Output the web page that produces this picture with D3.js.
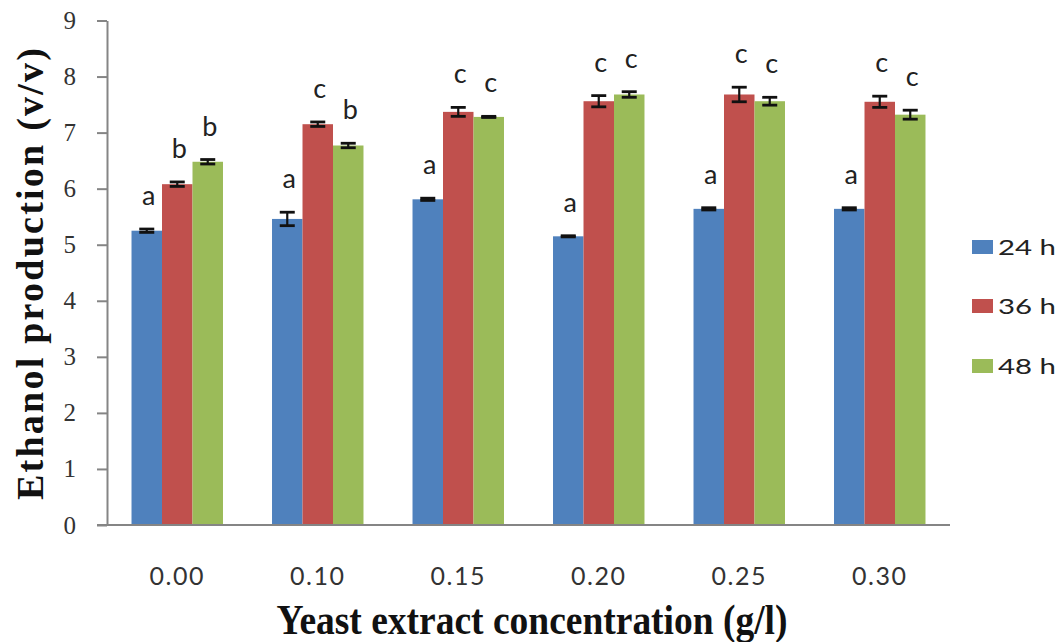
<!DOCTYPE html>
<html>
<head>
<meta charset="utf-8">
<script src="https://cdn.jsdelivr.net/npm/d3@7"></script>
<style>
  html, body { margin: 0; padding: 0; background: #fff; }
  svg { display: block; }
</style>
</head>
<body>
<svg id="chart" width="1057" height="642"></svg>
<script>
// ---- data ----
const categories = ["0.00", "0.10", "0.15", "0.20", "0.25", "0.30"];
const seriesNames = ["24 h", "36 h", "48 h"];
const values24 = [5.25, 5.46, 5.81, 5.15, 5.64, 5.64];
const values36 = [6.08, 7.15, 7.37, 7.56, 7.68, 7.55];
const values48 = [6.48, 6.77, 7.28, 7.68, 7.56, 7.32];
const errors24 = [0.03, 0.12, 0.02, 0.01, 0.02, 0.02];
const errors36 = [0.04, 0.04, 0.08, 0.10, 0.13, 0.10];
const errors48 = [0.04, 0.04, 0.01, 0.05, 0.07, 0.08];
const letters24 = ["a", "a", "a", "a", "a", "a"];
const letters36 = ["b", "c", "c", "c", "c", "c"];
const letters48 = ["b", "b", "c", "c", "c", "c"];
const yTicks = [0, 1, 2, 3, 4, 5, 6, 7, 8, 9];
const colors = ["#4F81BD", "#C0504D", "#9BBB59"];

const seriesValues = [values24, values36, values48];
const seriesErrors = [errors24, errors36, errors48];
const seriesLetters = [letters24, letters36, letters48];

// ---- layout ----
const svg = d3.select("#chart");
const plotLeft = 107, plotRight = 950, plotTop = 20.5, plotBottom = 525;

const x = d3.scaleBand().domain(categories).range([plotLeft, plotRight]).padding(0);
const groupW = x.bandwidth() * 0.651;
const xs = d3.scaleBand().domain(seriesNames).range([0, groupW]).padding(0);
const groupOffset = (x.bandwidth() - groupW) / 2;
const y = d3.scaleLinear().domain([0, 9]).range([plotBottom, plotTop]);

const rows = [];
categories.forEach((c, i) => {
  seriesNames.forEach((s, j) => {
    rows.push({cat: c, series: s, j, v: seriesValues[j][i], e: seriesErrors[j][i], letter: seriesLetters[j][i]});
  });
});

// bars
svg.append("g").selectAll("rect").data(rows).join("rect")
  .attr("x", d => x(d.cat) + groupOffset + xs(d.series))
  .attr("width", xs.bandwidth())
  .attr("y", d => y(d.v))
  .attr("height", d => y(0) - y(d.v))
  .attr("fill", d => colors[d.j]);

// error bars
const eg = svg.append("g").attr("stroke", "#111").attr("stroke-width", 2.2);
rows.forEach(d => {
  const cx = x(d.cat) + groupOffset + xs(d.series) + xs.bandwidth() / 2;
  const hi = y(d.v + d.e), lo = y(d.v - d.e);
  eg.append("line").attr("x1", cx).attr("x2", cx).attr("y1", hi).attr("y2", lo);
  eg.append("line").attr("x1", cx - 7.5).attr("x2", cx + 7.5).attr("y1", hi).attr("y2", hi).attr("stroke-width", 2.8);
  eg.append("line").attr("x1", cx - 7.5).attr("x2", cx + 7.5).attr("y1", lo).attr("y2", lo).attr("stroke-width", 2.8);
});

// significance letters
svg.append("g").selectAll("text").data(rows).join("text")
  .attr("x", d => x(d.cat) + groupOffset + xs(d.series) + xs.bandwidth() / 2 + 2)
  .attr("y", d => y(d.v + d.e) - 24)
  .attr("text-anchor", "middle")
  .attr("font-family", "Lato, 'Open Sans', sans-serif")
  .attr("font-size", 27)
  .attr("fill", "#222")
  .text(d => d.letter);

// y axis
const yAxis = d3.axisLeft(y).tickValues(yTicks).tickSize(10).tickSizeOuter(0).tickPadding(21).tickFormat(d3.format("d"));
const yg = svg.append("g").attr("transform", `translate(${plotLeft},0)`).call(yAxis);
yg.select(".domain").attr("stroke", "#858585").attr("stroke-width", 2);
yg.selectAll(".tick line").attr("stroke", "#858585").attr("stroke-width", 2);
yg.selectAll(".tick text")
  .attr("font-family", "'Liberation Serif', 'Times New Roman', serif")
  .attr("font-size", 25)
  .attr("fill", "#333");

// x axis
const xAxis = d3.axisBottom(x).tickSize(0).tickPadding(0);
const xg = svg.append("g").attr("transform", `translate(0,${plotBottom})`).call(xAxis);
xg.select(".domain").remove();
xg.selectAll(".tick text")
  .attr("y", 60).attr("dy", 0)
  .attr("font-family", "Lato, 'Open Sans', sans-serif")
  .attr("font-size", 25)
  .attr("letter-spacing", 1.5)
  .attr("fill", "#333");
svg.append("line")
  .attr("x1", plotLeft - 10).attr("x2", plotRight)
  .attr("y1", plotBottom).attr("y2", plotBottom)
  .attr("stroke", "#858585").attr("stroke-width", 2);

// axis titles
svg.append("text")
  .attr("x", 532).attr("y", 634)
  .attr("text-anchor", "middle")
  .attr("font-family", "'Liberation Serif', 'Times New Roman', serif")
  .attr("font-weight", "bold")
  .attr("font-size", 43)
  .attr("textLength", 511)
  .attr("lengthAdjust", "spacingAndGlyphs")
  .attr("fill", "#111")
  .text("Yeast extract concentration (g/l)");

svg.append("text")
  .attr("transform", "translate(43,274) rotate(-90)")
  .attr("text-anchor", "middle")
  .attr("font-family", "'Liberation Serif', 'Times New Roman', serif")
  .attr("font-weight", "bold")
  .attr("font-size", 38)
  .attr("textLength", 452)
  .attr("lengthAdjust", "spacing")
  .attr("fill", "#111")
  .text("Ethanol production (v/v)");

// legend
const legendY = [247, 306, 366];
const lg = svg.append("g");
seriesNames.forEach((s, j) => {
  lg.append("rect").attr("x", 972).attr("y", legendY[j] - 7).attr("width", 21).attr("height", 14).attr("fill", colors[j]);
  lg.append("text").attr("x", 998).attr("y", legendY[j] + 8)
    .attr("font-family", "Lato, 'Open Sans', sans-serif")
    .attr("font-size", 22)
    .attr("textLength", 58)
    .attr("lengthAdjust", "spacingAndGlyphs")
    .attr("fill", "#222")
    .text(s);
});
</script>
</body>
</html>
